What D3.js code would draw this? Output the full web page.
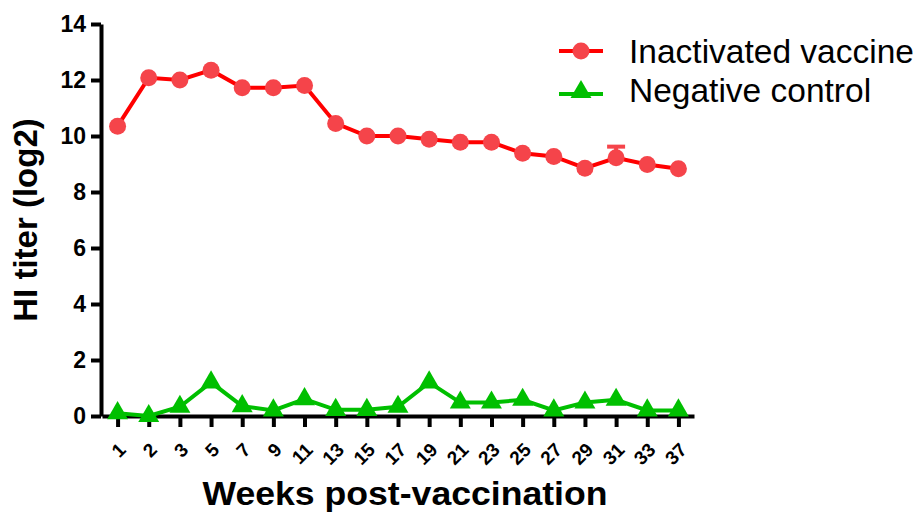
<!DOCTYPE html>
<html>
<head>
<meta charset="utf-8">
<script src="https://cdn.jsdelivr.net/npm/d3@7"></script>
<style>
  body { margin: 0; background: #fff; }
  svg, svg text { font-family: "Liberation Sans", Arial, Helvetica, sans-serif; }
</style>
</head>
<body>
<div id="chart"></div>
<script>
// weeks post-vaccination (categorical)
const weeks = ["1", "2", "3", "5", "7", "9", "11", "13", "15", "17", "19", "21", "23", "25", "27", "29", "31", "33", "37"];
const vaccine = [10.35, 12.08, 12.0, 12.35, 11.72, 11.72, 11.8, 10.45, 10.0, 10.0, 9.88, 9.78, 9.78, 9.38, 9.27, 8.85, 9.22, 8.98, 8.83];
const vaccineErr = [0, 0, 0, 0, 0, 0, 0, 0, 0, 0, 0, 0, 0, 0, 0, 0, 0.4, 0, 0];
const control = [0.1, 0, 0.33, 1.2, 0.35, 0.2, 0.6, 0.22, 0.22, 0.33, 1.2, 0.48, 0.48, 0.58, 0.2, 0.48, 0.58, 0.2, 0.2];
const yTicks = [0, 2, 4, 6, 8, 10, 12, 14];

const width = 919, height = 512;
const red = "#ff0000", redMark = "#f5444a", green = "#00bf00";
const font = "'Liberation Sans', Arial, Helvetica, sans-serif";

const svg = d3.select("#chart")
    .append("svg")
    .attr("width", width)
    .attr("height", height);

const x = d3.scalePoint()
    .domain(weeks)
    .range([102, 694])
    .padding(0.5);

const y = d3.scaleLinear()
    .domain([0, 14])
    .range([416, 24]);

// x axis
const xAxis = svg.append("g")
    .attr("transform", "translate(0,416)")
    .call(d3.axisBottom(x).tickSize(11).tickSizeOuter(0));
xAxis.attr("font-family", font);
xAxis.select(".domain").attr("stroke-width", 4);
xAxis.selectAll(".tick line").attr("stroke-width", 4);
xAxis.selectAll("text")
    .attr("font-size", 19)
    .attr("font-weight", "bold")
    .attr("fill", "#000")
    .attr("text-anchor", "end")
    .attr("dy", null)
    .attr("y", null)
    .attr("transform", "translate(9,35) rotate(-45)");

// y axis
const yAxis = svg.append("g")
    .attr("transform", "translate(101,0)")
    .call(d3.axisLeft(y).tickValues(yTicks).tickSize(10).tickSizeOuter(0).tickPadding(5));
yAxis.attr("font-family", font);
yAxis.select(".domain").attr("stroke-width", 4);
yAxis.selectAll(".tick line").attr("stroke-width", 4);
yAxis.selectAll("text")
    .attr("font-size", 23)
    .attr("font-weight", "bold")
    .attr("fill", "#000");

// axis titles
svg.append("text")
    .attr("x", 405)
    .attr("y", 505)
    .attr("text-anchor", "middle")
    .attr("font-size", 33)
    .attr("font-weight", "bold")
    .attr("textLength", 405)
    .attr("lengthAdjust", "spacingAndGlyphs")
    .text("Weeks post-vaccination");

svg.append("text")
    .attr("transform", "translate(37,220) rotate(-90)")
    .attr("text-anchor", "middle")
    .attr("font-size", 33)
    .attr("font-weight", "bold")
    .text("HI titer (log2)");

const line = d3.line()
    .x((d, i) => x(weeks[i]))
    .y(d => y(d));

// negative control
svg.append("path")
    .datum(control)
    .attr("fill", "none")
    .attr("stroke", green)
    .attr("stroke-width", 4)
    .attr("d", line);

const tri = d3.symbol().type(d3.symbolTriangle).size(190);
svg.selectAll(".tri")
    .data(control)
    .enter()
    .append("path")
    .attr("class", "tri")
    .attr("d", tri)
    .attr("fill", green)
    .attr("transform", (d, i) => `translate(${x(weeks[i])},${y(d)})`);

// inactivated vaccine
svg.append("path")
    .datum(vaccine)
    .attr("fill", "none")
    .attr("stroke", red)
    .attr("stroke-width", 4)
    .attr("d", line);

// error bars (only visible where larger than the marker)
const errs = vaccine.map((v, i) => ({ wk: weeks[i], v: v, e: vaccineErr[i] })).filter(d => d.e > 0);
svg.selectAll(".err")
    .data(errs)
    .enter()
    .append("line")
    .attr("x1", d => x(d.wk))
    .attr("x2", d => x(d.wk))
    .attr("y1", d => y(d.v))
    .attr("y2", d => y(d.v + d.e))
    .attr("stroke", redMark)
    .attr("stroke-width", 4);
svg.selectAll(".cap")
    .data(errs)
    .enter()
    .append("line")
    .attr("x1", d => x(d.wk) - 9)
    .attr("x2", d => x(d.wk) + 9)
    .attr("y1", d => y(d.v + d.e))
    .attr("y2", d => y(d.v + d.e))
    .attr("stroke", redMark)
    .attr("stroke-width", 4);

svg.selectAll(".dot")
    .data(vaccine)
    .enter()
    .append("circle")
    .attr("class", "dot")
    .attr("cx", (d, i) => x(weeks[i]))
    .attr("cy", d => y(d))
    .attr("r", 8.5)
    .attr("fill", redMark);

// legend
const legend = [
    { name: "Inactivated vaccine", color: red, mark: redMark, type: "circle", y: 51 },
    { name: "Negative control", color: green, mark: green, type: "tri", y: 94 }
];
const lg = svg.selectAll(".legend")
    .data(legend)
    .enter()
    .append("g")
    .attr("transform", d => `translate(0,${d.y})`);
lg.append("line")
    .attr("x1", 559).attr("x2", 603)
    .attr("stroke", d => d.color)
    .attr("stroke-width", 4);
lg.filter(d => d.type === "circle").append("circle")
    .attr("cx", 581).attr("r", 8.5)
    .attr("fill", d => d.mark);
lg.filter(d => d.type === "tri").append("path")
    .attr("d", tri)
    .attr("transform", "translate(581,-2)")
    .attr("fill", d => d.mark);
lg.append("text")
    .attr("x", 629)
    .attr("y", d => d.type === "circle" ? 12 : 8)
    .attr("font-size", 33.5)
    .text(d => d.name);
</script>
</body>
</html>
